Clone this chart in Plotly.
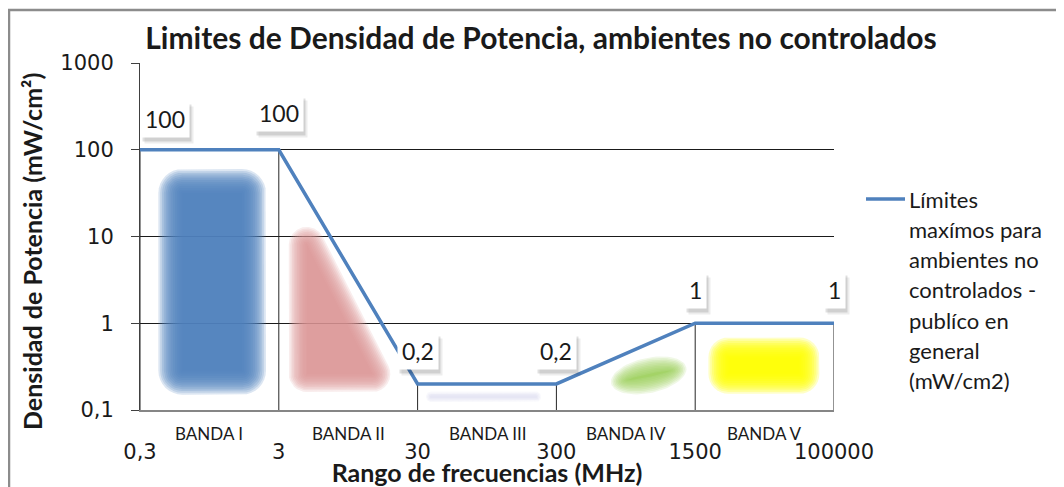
import math
import numpy as np
import plotly.graph_objects as go

# ---------------- data ----------------
freq_labels = ["0,3", "3", "30", "300", "1500", "100000"]
density = [100, 100, 0.2, 0.2, 1, 1]
value_labels = ["100", "100", "0,2", "0,2", "1", "1"]
band_names = ["BANDA I", "BANDA II", "BANDA III", "BANDA IV", "BANDA V"]
y_tickvals = [0.1, 1, 10, 100, 1000]
y_ticktext = ["0,1", "1", "10", "100", "1000"]
series_name = "Límites maxímos para ambientes no controlados - publíco en general (mW/cm2)"
legend_lines = ["Límites", "maxímos para", "ambientes no", "controlados -",
                "publíco en", "general", "(mW/cm2)"]
y_title = "Densidad de Potencia (mW/cm²)"
x_title = "Rango de frecuencias (MHz)"
chart_title = "Limites de Densidad de Potencia, ambientes no controlados"

# decorative band illustrations (band-index x, density y)
deco_blue_rect = ([0.21, 0.83], [0.2, 45])
deco_red_tri = [(1.13, 24), (1.13, 0.2), (1.79, 0.2)]
deco_band3_rect = ([2.09, 2.86], [0.139, 0.145])
deco_green_ell = ([3.44, 3.89], [0.19, 0.33])
deco_yellow_rect = ([4.16, 4.83], [0.195, 0.54])

# ---------------- layout constants ----------------
W, H = 1056, 479
L, R, T, B = 132, 230, 55, 77
PW, PH = W - L - R, H - T - B
XR = [0, len(freq_labels) - 1]
YR = [-1, 3]
SX = PW / (XR[1] - XR[0])
SY = PH / (YR[1] - YR[0])
FONT = "Lato, 'Open Sans', sans-serif"
TICKFONT = "'DejaVu Sans', sans-serif"
BLUE = "#4f81bd"
TXT = "#1a1a1a"


def to_uv(x, y):
    return x * SX, math.log10(y) * SY


def from_uv(pts):
    return [p[0] / SX for p in pts], [10 ** (p[1] / SY) for p in pts]


def ccw(poly):
    a = 0
    for i in range(len(poly)):
        x1, y1 = poly[i]
        x2, y2 = poly[(i + 1) % len(poly)]
        a += x1 * y2 - x2 * y1
    return poly if a > 0 else poly[::-1]


def inset_poly(poly, d):
    poly = ccw(poly)
    n = len(poly)
    lines = []
    for i in range(n):
        p, q = np.array(poly[i]), np.array(poly[(i + 1) % n])
        e = q - p
        nrm = np.array([e[1], -e[0]]) / np.hypot(*e)
        lines.append((nrm, nrm @ p - d))
    out = []
    for i in range(n):
        n1, c1 = lines[i - 1]
        n2, c2 = lines[i]
        out.append(tuple(np.linalg.solve(np.array([n1, n2]), [c1, c2])))
    return out


def offset_poly(poly, d, steps=8):
    poly = ccw(poly)
    n = len(poly)
    if d <= 0:
        return list(poly)
    out = []
    for i in range(n):
        p0, p, p1 = np.array(poly[i - 1]), np.array(poly[i]), np.array(poly[(i + 1) % n])
        e_in, e_out = p - p0, p1 - p
        a_in = math.atan2(-e_in[0], e_in[1])
        a_out = math.atan2(-e_out[0], e_out[1])
        while a_out < a_in:
            a_out += 2 * math.pi
        for k in range(steps + 1):
            a = a_in + (a_out - a_in) * k / steps
            out.append((p[0] + d * math.cos(a), p[1] + d * math.sin(a)))
    return out


def blurred(poly_uv, color, blur=14, layers=9, alpha=0.26, inset_frac=0.55):
    core = inset_poly(poly_uv, blur * inset_frac)
    traces = []
    for k in range(layers):
        d = blur * k / (layers - 1)
        xs, ys = from_uv(offset_poly(core, d))
        traces.append(go.Scatter(x=xs + [xs[0]], y=ys + [ys[0]], mode="lines", fill="toself",
                                 fillcolor=color, line=dict(width=0), opacity=alpha,
                                 hoverinfo="skip", showlegend=False))
    return traces


def rect_uv(xr, yr):
    (u0, v0), (u1, v1) = to_uv(xr[0], yr[0]), to_uv(xr[1], yr[1])
    return [(u0, v0), (u1, v0), (u1, v1), (u0, v1)]


def blurred_ellipse(xr, yr, color, tilt=14, blur=12, layers=9, alpha=0.22):
    (u0, v0), (u1, v1) = to_uv(xr[0], yr[0]), to_uv(xr[1], yr[1])
    cu, cv = (u0 + u1) / 2, (v0 + v1) / 2
    rx, ry = (u1 - u0) / 2, (v1 - v0) / 2
    t = math.radians(tilt)
    traces = []
    for k in range(layers):
        d = blur * k / (layers - 1) - blur * 0.6
        a_, b_ = max(rx + d, 2), max(ry + d, 1.5)
        pts = []
        for j in range(61):
            th = 2 * math.pi * j / 60
            x, y = a_ * math.cos(th), b_ * math.sin(th)
            pts.append((cu + x * math.cos(t) - y * math.sin(t), cv + x * math.sin(t) + y * math.cos(t)))
        xs, ys = from_uv(pts)
        traces.append(go.Scatter(x=xs, y=ys, mode="lines", fill="toself", fillcolor=color,
                                 line=dict(width=0), opacity=alpha, hoverinfo="skip", showlegend=False))
    return traces


fig = go.Figure()

deco = []
deco += blurred(rect_uv(*deco_blue_rect), BLUE, blur=24, layers=14, alpha=0.2)
deco += blurred([to_uv(*p) for p in deco_red_tri], "#d99694", blur=18, layers=12, alpha=0.17)
deco += blurred(rect_uv(*deco_band3_rect), "#c8c8ea", blur=5, layers=5, alpha=0.12, inset_frac=0.2)
deco += blurred_ellipse(*deco_green_ell, "#92d050", tilt=12, blur=18, layers=12, alpha=0.14)
deco += blurred(rect_uv(*deco_yellow_rect), "#ffff00", blur=20, layers=12, alpha=0.22)
for tr in deco:
    fig.add_trace(tr)

# drop lines from each point to the axis
idx = list(range(len(density)))
dx, dy = [], []
for i, v in zip(idx, density):
    dx += [i, i, None]
    dy += [v, y_tickvals[0], None]
fig.add_trace(go.Scatter(x=dx, y=dy, mode="lines", line=dict(color="#262626", width=1),
                         hoverinfo="skip", showlegend=False))

# main series
fig.add_trace(go.Scatter(x=idx, y=density, mode="lines", name=series_name,
                         line=dict(color=BLUE, width=3.5), showlegend=False))

annotations = []
label_anchor = ["left", "center", "center", "center", "center", "center"]
label_yshift = [12, 18, 14, 14, 14, 14]
for i, (v, t) in enumerate(zip(density, value_labels)):
    for sx, sy, a in [(4, -6, 0.07), (2, -4, 0.12)]:
        annotations.append(dict(x=i, y=math.log10(v), xref="x", yref="y", text=t, showarrow=False,
                                xanchor=label_anchor[i], yanchor="bottom",
                                yshift=label_yshift[i] + sy, xshift=sx,
                                font=dict(family=FONT, size=23, color="rgba(0,0,0,0)"),
                                bgcolor=f"rgba(0,0,0,{a})", borderpad=4))
    annotations.append(dict(x=i, y=math.log10(v), xref="x", yref="y", text=t, showarrow=False,
                            xanchor=label_anchor[i], yanchor="bottom", yshift=label_yshift[i],
                            font=dict(family=FONT, size=23, color=TXT),
                            bgcolor="white", borderpad=4))

for i, b in enumerate(band_names):
    annotations.append(dict(x=i + 0.5, y=0, xref="x", yref="paper", yshift=-23, yanchor="middle",
                            text=b, showarrow=False,
                            font=dict(family=FONT, size=17, color=TXT)))

# y-axis title
annotations.append(dict(x=(24 - L) / PW, y=(H - B - 244) / PH, xref="paper", yref="paper",
                        text=y_title, textangle=-90, showarrow=False,
                        xanchor="center", yanchor="middle",
                        font=dict(family=FONT, size=25, color=TXT, weight="bold")))

# legend (drawn manually)
leg_x0 = (858 - L) / PW
leg_x1 = (897 - L) / PW
leg_y = (H - B - 191) / PH
for k, line in enumerate(legend_lines):
    annotations.append(dict(x=(899 - L) / PW, y=leg_y, xref="paper", yref="paper",
                            yshift=-30.3 * k, xanchor="left", yanchor="middle", text=line,
                            showarrow=False, font=dict(family=FONT, size=22, color=TXT)))

shapes = [
    dict(type="line", xref="paper", yref="paper", x0=leg_x0, x1=leg_x1, y0=leg_y, y1=leg_y,
         line=dict(color=BLUE, width=3.5)),
    dict(type="rect", xref="paper", yref="paper", x0=(1 - L) / PW, y0=-1,
         x1=2, y1=(H - B - 2) / PH, line=dict(color="#8c8c8c", width=2.5)),
]

fig.update_layout(
    width=W, height=H, margin=dict(l=L, r=R, t=T, b=B, autoexpand=False),
    paper_bgcolor="white", plot_bgcolor="white",
    showlegend=False,
    title=dict(text=chart_title,
               x=(533 - L) / PW, xref="paper", xanchor="center",
               y=1 - 30 / H, yref="container", yanchor="middle", automargin=False,
               font=dict(family=FONT, size=30, color=TXT, weight="bold")),
    font=dict(family=FONT, color=TXT),
    annotations=annotations, shapes=shapes,
)

fig.update_xaxes(
    range=XR, tickvals=idx, ticktext=freq_labels, showgrid=False, zeroline=False,
    automargin=False,
    showline=True, linecolor="#868686", linewidth=1.5, ticks="", ticklabelstandoff=22,
    tickfont=dict(family=TICKFONT, size=21, color=TXT),
    title=dict(text=x_title, standoff=0,
               font=dict(family=FONT, size=25, color=TXT, weight="bold")),
)
fig.update_yaxes(
    type="log", range=YR, tickvals=y_tickvals, ticktext=y_ticktext,
    automargin=False,
    showgrid=True, gridcolor=TXT, gridwidth=1, zeroline=False,
    showline=True, linecolor="#404040", linewidth=1, ticks="outside", ticklen=8,
    tickcolor="#404040", ticklabelstandoff=13,
    tickfont=dict(family=TICKFONT, size=21, color=TXT),
)

fig.write_html("out.html")
